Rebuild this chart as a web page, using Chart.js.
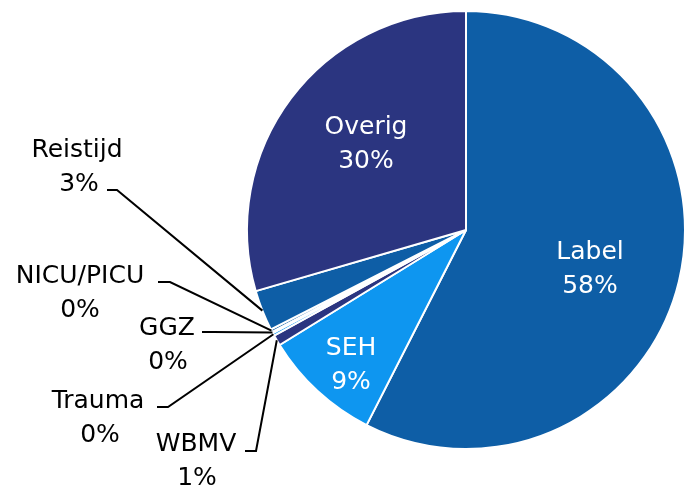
<!DOCTYPE html>
<html>
<head>
<meta charset="utf-8">
<script src="https://cdn.jsdelivr.net/npm/chart.js@4/dist/chart.umd.min.js"></script>
<style>
  html, body { margin: 0; padding: 0; background: #fff; }
  canvas { display: block; }
</style>
</head>
<body>
<canvas id="myChart" width="687" height="489"></canvas>
<script>
"use strict";

// data
const categories = ['Label', 'SEH', 'WBMV', 'Trauma', 'GGZ', 'NICU/PICU', 'Reistijd', 'Overig'];
const values = [57.5, 8.7, 0.8, 0.2, 0.1, 0.2, 3.0, 29.5];
const sliceColors = ['#0E5EA6', '#0E96F0', '#2B3580', '#0E96F0', '#2B3580', '#0E5EA6', '#0E5EA6', '#2B3580'];

// where each label sits (text centre of first line), white = inside the pie
const labelPos = {
  'Label':     { x: 590, y: 252, color: '#fff' },
  'SEH':       { x: 351, y: 348, color: '#fff' },
  'Overig':    { x: 366, y: 127, color: '#fff' },
  'Reistijd':  { x: 77,  y: 150, color: '#000', pctX: 79,  line: [107, 117, 190] },
  'NICU/PICU': { x: 80,  y: 276, color: '#000', pctX: 80,  line: [158, 170, 282] },
  'GGZ':       { x: 167, y: 328, color: '#000', pctX: 168, line: [202, 213, 332] },
  'Trauma':    { x: 98,  y: 401, color: '#000', pctX: 100, line: [157, 168, 407] },
  'WBMV':      { x: 196, y: 444, color: '#000', pctX: 197, line: [245, 256, 451] }
};

const labelPlugin = {
  id: 'pieLabels',
  afterDraw(chart) {
    const ctx = chart.ctx;
    const arcs = chart.getDatasetMeta(0).data;
    ctx.save();
    ctx.font = '25px "DejaVu Sans", Verdana, sans-serif';
    ctx.textAlign = 'center';
    ctx.textBaseline = 'middle';
    categories.forEach((name, i) => {
      const p = labelPos[name];
      const pct = Math.round(values[i]) + '%';
      if (p.line) {
        // leader line to the edge of the slice
        const arc = arcs[i];
        const mid = (arc.startAngle + arc.endAngle) / 2;
        const ex = arc.x + Math.cos(mid) * arc.outerRadius;
        const ey = arc.y + Math.sin(mid) * arc.outerRadius;
        ctx.strokeStyle = '#000';
        ctx.lineWidth = 2;
        ctx.beginPath();
        ctx.moveTo(p.line[0], p.line[2]);
        ctx.lineTo(p.line[1], p.line[2]);
        ctx.lineTo(ex, ey);
        ctx.stroke();
      }
      ctx.fillStyle = p.color;
      ctx.fillText(name, p.x, p.y);
      ctx.fillText(pct, p.pctX || p.x, p.y + 34);
    });
    ctx.restore();
  }
};

const data = {
  labels: categories,
  datasets: [{
    data: values,
    backgroundColor: sliceColors,
    borderColor: '#fff',
    borderWidth: 2
  }]
};

const config = {
  type: 'pie',
  data,
  options: {
    responsive: false,
    animation: false,
    devicePixelRatio: 1,
    layout: { padding: { top: 10, bottom: 39, left: 246, right: 1 } },
    plugins: {
      legend: { display: false },
      tooltip: { enabled: false }
    }
  },
  plugins: [labelPlugin]
};

const myChart = new Chart(document.getElementById('myChart'), config);
</script>
</body>
</html>
